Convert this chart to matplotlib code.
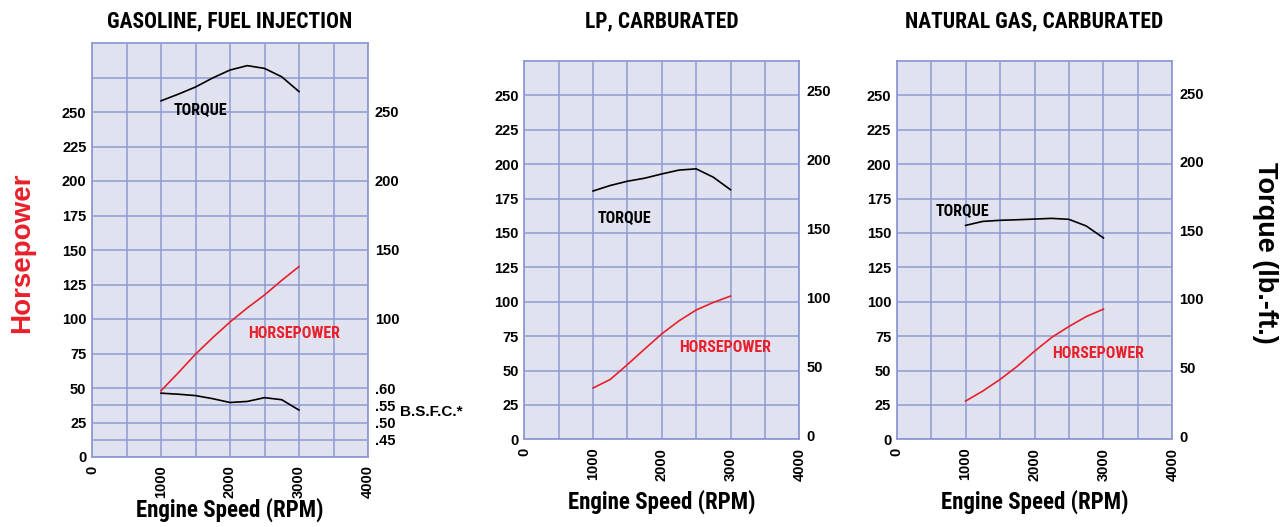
import matplotlib.pyplot as plt

# engine speed samples (rpm)
rpm = [1000, 1250, 1500, 1750, 2000, 2250, 2500, 2750, 3000]

gas_torque = [258.1, 262.9, 268.1, 274.7, 280.4, 283.6, 281.6, 275.5, 264.8]
gas_hp = [48.0, 61.0, 74.5, 86.5, 97.8, 108.0, 117.4, 128.0, 138.0]
gas_bsfc = [0.585, 0.582, 0.578, 0.569, 0.558, 0.561, 0.572, 0.566, 0.536]

lp_torque = [180.5, 184.5, 187.6, 189.8, 192.9, 195.7, 196.6, 190.5, 181.4]
lp_hp = [37.3, 43.5, 54.3, 65.6, 76.7, 86.1, 94.0, 99.5, 104.1]

ng_torque = [155.5, 158.4, 159.2, 159.6, 160.1, 160.6, 159.9, 155.1, 146.4]
ng_hp = [27.8, 35.1, 43.5, 53.1, 64.0, 74.1, 82.0, 89.2, 94.6]

titles = ["GASOLINE, FUEL INJECTION", "LP, CARBURATED", "NATURAL GAS, CARBURATED"]
hp_ticks = [0, 25, 50, 75, 100, 125, 150, 175, 200, 225, 250]
torque_ticks = [0, 50, 100, 150, 200, 250]
gas_torque_ticks = [100, 150, 200, 250]
bsfc_ticks = [0.45, 0.50, 0.55, 0.60]
bsfc_labels = [".45", ".50", ".55", ".60"]
rpm_ticks = [0, 1000, 2000, 3000, 4000]

NARROW = ["Roboto Condensed", "DejaVu Sans"]
BOLD = ["Liberation Sans", "DejaVu Sans"]

BG = "#e1e2f0"
GRID = "#8f9ad2"
RED = "#e8202a"

W, H = 1282, 527
fig = plt.figure(figsize=(W / 100, H / 100), dpi=100)


def px_rect(x0, y0, x1, y1):
    return [x0 / W, 1 - y1 / H, (x1 - x0) / W, (y1 - y0) / H]


def style_labels(labels, size=10.5):
    for lab in labels:
        lab.set_fontfamily(BOLD)
        lab.set_fontweight("bold")
        lab.set_fontsize(size)


def panel(rect, title, ylim, torque, hp, tlim, tticks, tq_pos, hp_pos, xlabel_y):
    ax = fig.add_axes(rect)
    ax.set_facecolor(BG)
    ax.set_xlim(0, 4000)
    ax.set_ylim(*ylim)
    ax.set_xticks(rpm_ticks)
    ax.set_xticks([500, 1500, 2500, 3500], minor=True)
    ax.set_yticks(hp_ticks)
    ax.grid(True, which="both", color=GRID, lw=1.1)
    ax.set_axisbelow(True)
    for s in ax.spines.values():
        s.set_color(GRID)
        s.set_linewidth(1.3)
    ax.tick_params(which="both", length=0)
    ax.tick_params(axis="y", pad=4)
    ax.tick_params(axis="x", pad=6)
    style_labels(ax.get_yticklabels())
    style_labels(ax.get_xticklabels())
    for lab in ax.get_xticklabels():
        lab.set_rotation(90)

    ax.plot(rpm, torque, color="black", lw=1.2)
    ax.plot(rpm, hp, color=RED, lw=1.2)
    ax.text(tq_pos[0], tq_pos[1], "TORQUE", ha="left", va="center",
            family=NARROW, weight="bold", fontsize=11.5)
    ax.text(hp_pos[0], hp_pos[1], "HORSEPOWER", ha="left", va="center",
            family=NARROW, weight="bold", fontsize=11.5, color=RED)

    cx = rect[0] + rect[2] / 2
    fig.text(cx, 1 - 21 / H, title, ha="center", va="center",
             family=NARROW, weight="bold", fontsize=15.5)
    ax.set_xlabel("Engine Speed (RPM)", family=NARROW, weight="bold", fontsize=16.5)
    ax.xaxis.label.set_va("center")
    ax.xaxis.set_label_coords(0.5, xlabel_y)

    tw = ax.twinx()
    tw.set_ylim(*tlim)
    tw.set_yticks(tticks)
    tw.tick_params(length=0, pad=5)
    for s in tw.spines.values():
        s.set_visible(False)
    style_labels(tw.get_yticklabels())
    return ax


# gasoline panel
r1 = px_rect(92, 43, 368, 457)
ax1 = panel(r1, titles[0], (0, 300), gas_torque, gas_hp, (0, 300), gas_torque_ticks,
            (1178, 252), (2257, 89.5), -0.128)
ax1.set_yticks([12.5, 37.5, 275], minor=True)
ax1.grid(True, which="minor", axis="y", color=GRID, lw=1.1)

bs = ax1.twinx()
bs.set_ylim(0.40, 1.60)
bs.set_yticks(bsfc_ticks)
bs.set_yticklabels(bsfc_labels)
bs.tick_params(length=0, pad=5)
for s in bs.spines.values():
    s.set_visible(False)
style_labels(bs.get_yticklabels())
bs.plot(rpm, gas_bsfc, color="black", lw=1.2)
bs.text(1.115, 0.53, "B.S.F.C.*", transform=bs.get_yaxis_transform(), ha="left", va="center",
        family=BOLD, weight="bold", fontsize=11)

# LP panel
r2 = px_rect(524.3, 61, 799.3, 439.3)
ax2 = panel(r2, titles[1], (0, 275), lp_torque, lp_hp, (-2.4, 271.5), torque_ticks,
            (1065, 161.5), (2252, 66.7), -0.166)

# natural gas panel
r3 = px_rect(896.7, 61, 1172.3, 439.3)
ax3 = panel(r3, titles[2], (0, 275), ng_torque, ng_hp, (-2.4, 273.5), torque_ticks,
            (571, 166.3), (2249, 62.6), -0.166)

fig.text(22 / W, 1 - 253 / H, "Horsepower", rotation=90, ha="center", va="center",
         family=BOLD, weight="bold", fontsize=20, color=RED)
fig.text(1265 / W, 1 - 253 / H, "Torque (lb.-ft.)", rotation=-90, ha="center", va="center",
         family=BOLD, weight="bold", fontsize=19.5)

fig.savefig("out.png", dpi=100)
